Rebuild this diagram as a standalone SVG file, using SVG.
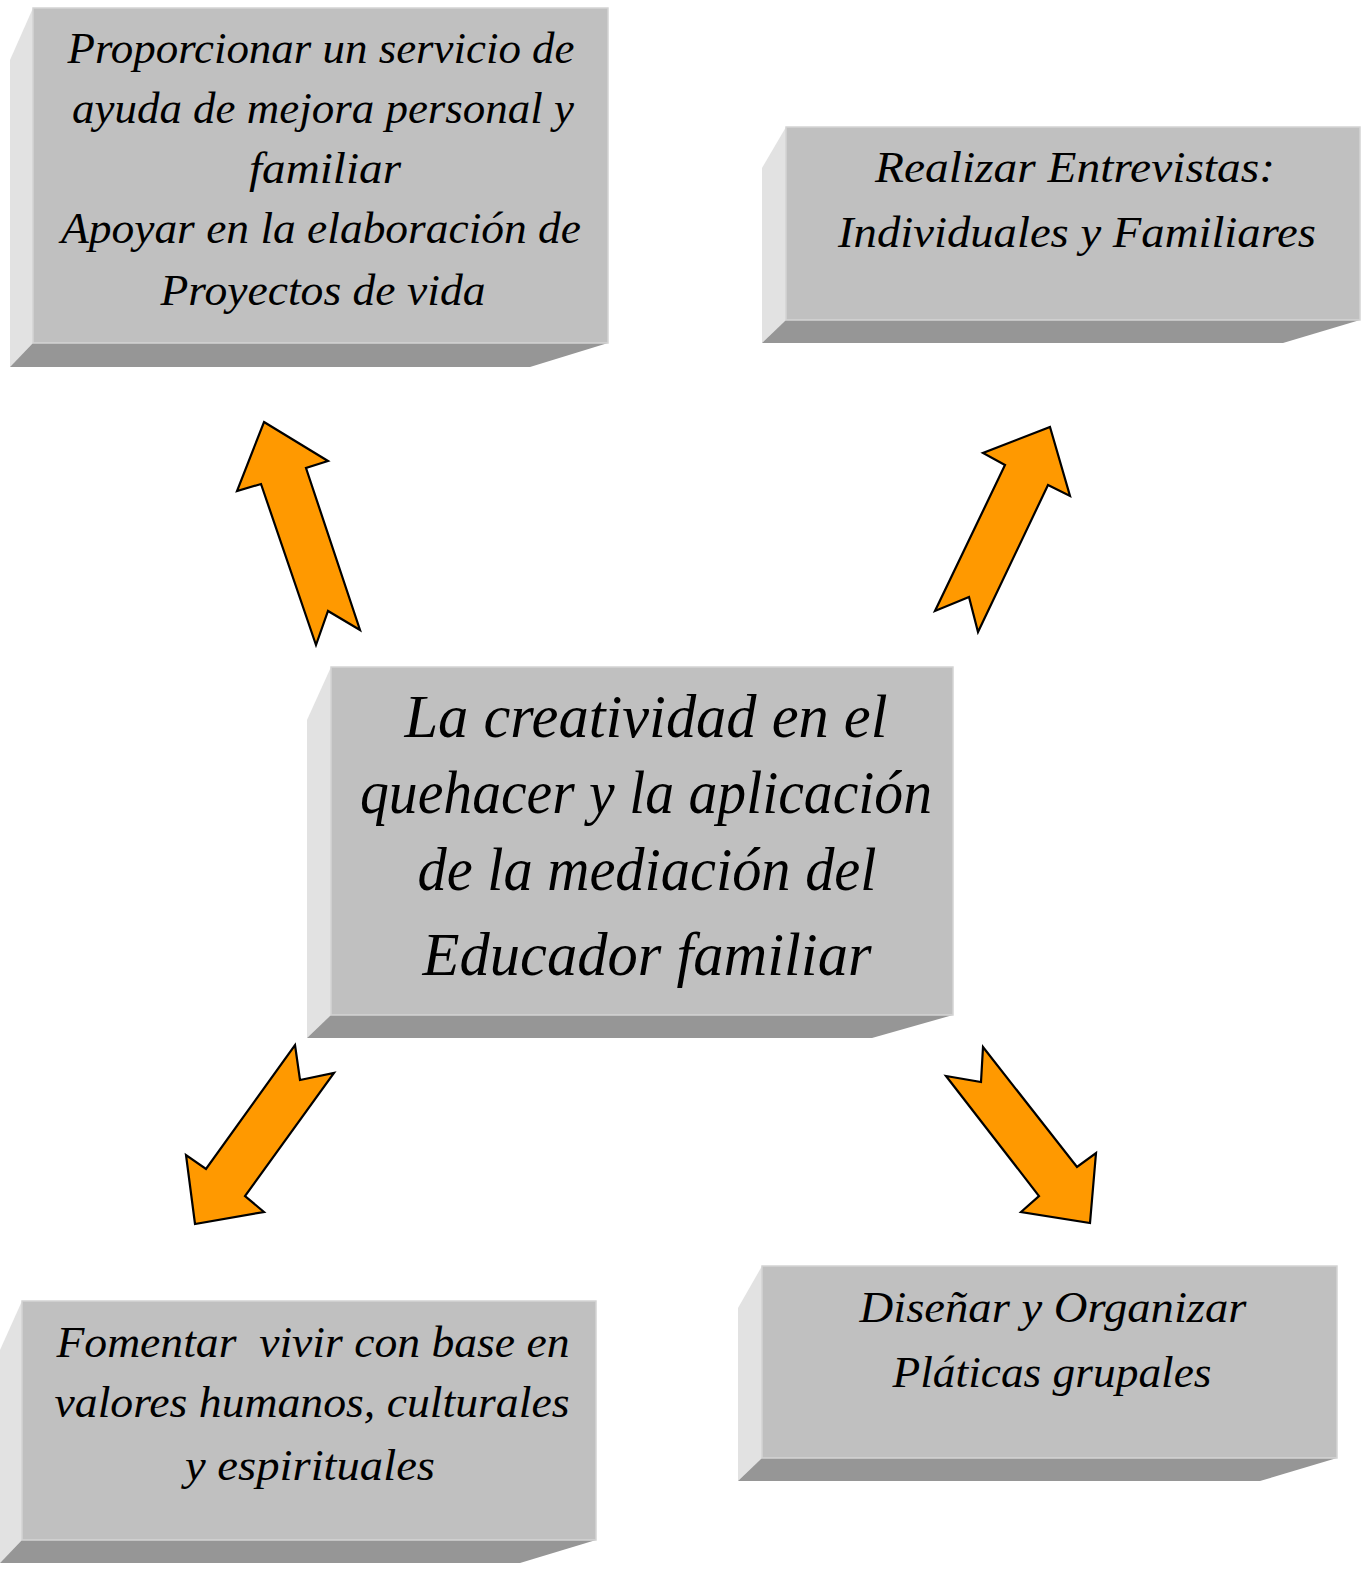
<svg xmlns="http://www.w3.org/2000/svg" width="1372" height="1571" viewBox="0 0 1372 1571">
<style>
.face{fill:#c0c0c0;stroke:#d4d4d4;stroke-width:1.5}
.side{fill:#e2e2e2}
.bot{fill:#969696}
.t{font-family:"Liberation Serif","DejaVu Serif",serif;font-style:italic;fill:#000;text-anchor:middle}
.s{font-size:44px}
.b{font-size:62px}
.arrow{fill:#ff9900;stroke:#000;stroke-width:2.2;stroke-linejoin:miter}
</style>
<rect width="1372" height="1571" fill="#fff"/>
<g id="box-proporcionar">
<polygon class="side" points="33,8 10,60 10,367 33,343"/>
<polygon class="bot" points="33,343 608,343 530,367 10,367"/>
<rect class="face" x="33" y="8" width="575" height="335"/>
<text class="t s" x="321" y="63" textLength="507" lengthAdjust="spacingAndGlyphs">Proporcionar un servicio de</text>
<text class="t s" x="323" y="123" textLength="502" lengthAdjust="spacingAndGlyphs">ayuda de mejora personal y</text>
<text class="t s" x="325" y="183" textLength="152" lengthAdjust="spacingAndGlyphs">familiar</text>
<text class="t s" x="321" y="243" textLength="520" lengthAdjust="spacingAndGlyphs">Apoyar en la elaboración de</text>
<text class="t s" x="323" y="305" textLength="325" lengthAdjust="spacingAndGlyphs">Proyectos de vida</text>
</g>
<g id="box-entrevistas">
<polygon class="side" points="786,127 762,168 762,343 786,320"/>
<polygon class="bot" points="786,320 1360,320 1283,343 762,343"/>
<rect class="face" x="786" y="127" width="574" height="193"/>
<text class="t s" x="1075" y="182" textLength="400" lengthAdjust="spacingAndGlyphs">Realizar Entrevistas:</text>
<text class="t s" x="1077" y="247" textLength="478" lengthAdjust="spacingAndGlyphs">Individuales y Familiares</text>
</g>
<g id="box-central">
<polygon class="side" points="331,667 307,720 307,1038 331,1015"/>
<polygon class="bot" points="331,1015 953,1015 872,1038 307,1038"/>
<rect class="face" x="331" y="667" width="622" height="348"/>
<text class="t b" x="646" y="737" textLength="483" lengthAdjust="spacingAndGlyphs">La creatividad en el</text>
<text class="t b" x="646" y="813" textLength="572" lengthAdjust="spacingAndGlyphs">quehacer y la aplicación</text>
<text class="t b" x="647" y="890" textLength="459" lengthAdjust="spacingAndGlyphs">de la mediación del</text>
<text class="t b" x="647" y="975" textLength="449" lengthAdjust="spacingAndGlyphs">Educador familiar</text>
</g>
<g id="box-fomentar">
<polygon class="side" points="22,1301 0,1350 0,1563 22,1540"/>
<polygon class="bot" points="22,1540 596,1540 520,1563 0,1563"/>
<rect class="face" x="22" y="1301" width="574" height="239"/>
<text class="t s" x="313" y="1357" textLength="513" lengthAdjust="spacingAndGlyphs" xml:space="preserve" style="white-space:pre">Fomentar  vivir con base en</text>
<text class="t s" x="312" y="1417" textLength="515" lengthAdjust="spacingAndGlyphs">valores humanos, culturales</text>
<text class="t s" x="310" y="1480" textLength="250" lengthAdjust="spacingAndGlyphs">y espirituales</text>
</g>
<g id="box-disenar">
<polygon class="side" points="762,1266 738,1308 738,1481 762,1458"/>
<polygon class="bot" points="762,1458 1337,1458 1260,1481 738,1481"/>
<rect class="face" x="762" y="1266" width="575" height="192"/>
<text class="t s" x="1053" y="1322" textLength="387" lengthAdjust="spacingAndGlyphs">Diseñar y Organizar</text>
<text class="t s" x="1052" y="1387" textLength="319" lengthAdjust="spacingAndGlyphs">Pláticas grupales</text>
</g>
<g id="connectors">
<polygon class="arrow" points="264,422 328,461 306,468 360,630 328,611 316,645 261,484 237,491"/>
<polygon class="arrow" points="1050,427 1070,496 1048,485 978,632 969,597 935,611 1005,465 983,453"/>
<polygon class="arrow" points="295,1045 300,1080 334,1073 245,1196 264,1212 195,1224 186,1155 206,1169"/>
<polygon class="arrow" points="983,1047 981,1082 946,1076 1039,1196 1021,1212 1090,1223 1096,1153 1077,1167"/>
</g>
</svg>
